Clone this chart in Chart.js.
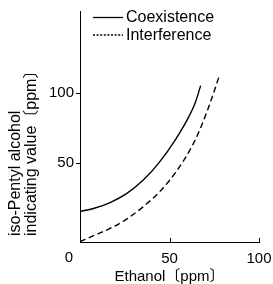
<!DOCTYPE html>
<html>
<head>
<meta charset="utf-8">
<script src="https://cdn.jsdelivr.net/npm/chart.js@4"></script>
<style>
  html, body { margin: 0; padding: 0; background: #fff; }
  #wrap { width: 273px; height: 284px; }
</style>
</head>
<body>
<div id="wrap"><canvas id="grafico"></canvas></div>
<script>
// datos
let etanolCoex = [0, 7.5, 16.8, 26, 35.2, 44.4, 53.6, 60.9, 64.6, 67.4];
let valorCoex = [15.3, 17.4, 21.7, 28.1, 37.6, 50.7, 67.4, 83.5, 94, 105.5];
let etanolInterf = [0, 7.5, 16.8, 26, 35.2, 44.4, 53.6, 62.8, 68.3, 73.8, 77.5];
let valorInterf = [-6.4, -2.1, 3.1, 9.8, 18.6, 29.3, 43.6, 62.6, 78.1, 97.1, 111.4];
let ticksX = [50, 100];
let ticksY = [50, 100];
let nombres = ["Coexistence", "Interference"];
let tituloX = "Ethanol〔ppm〕";
let tituloY = ["iso-Pentyl alcohol", "indicating value〔ppm〕"];

let fuente = "'Liberation Sans', Arial, 'Noto Sans CJK JP', sans-serif";
Chart.defaults.font.family = fuente;
Chart.defaults.color = "#000";

function puntos(xs, ys) {
  return xs.map((x, i) => ({ x: x, y: ys[i] }));
}

// ticks hacia adentro en X, el "0" de la esquina, titulo Y y la leyenda
let extras = {
  id: "extras",
  afterDraw(chart) {
    let ctx = chart.ctx;
    let x = chart.scales.x;
    let area = chart.chartArea;
    ctx.save();
    ctx.strokeStyle = "#000";
    ctx.fillStyle = "#000";
    ctx.lineWidth = 1;
    ticksX.forEach(v => {
      let px = Math.round(x.getPixelForValue(v)) + 0.5;
      ctx.beginPath();
      ctx.moveTo(px, area.bottom);
      ctx.lineTo(px, area.bottom - 4);
      ctx.stroke();
    });
    ctx.font = "15px " + fuente;
    ctx.textAlign = "center";
    ctx.textBaseline = "middle";
    ctx.fillText("0", area.left - 11, 258);

    // titulo del eje Y, dos lineas giradas
    ctx.save();
    ctx.translate(0, 236);
    ctx.rotate(-Math.PI / 2);
    ctx.font = "16px " + fuente;
    ctx.textAlign = "left";
    ctx.textBaseline = "middle";
    ctx.fillText(tituloY[0], 0, 16);
    ctx.fillText(tituloY[1], 0, 31.5);
    ctx.restore();

    // leyenda
    let filas = [17.5, 35];
    ctx.font = "16px " + fuente;
    chart.data.datasets.forEach((d, i) => {
      ctx.beginPath();
      ctx.lineWidth = 1.3;
      ctx.setLineDash(i === 0 ? [] : [2, 1.6]);
      ctx.moveTo(93, filas[i]);
      ctx.lineTo(123, filas[i]);
      ctx.stroke();
      ctx.setLineDash([]);
      ctx.textAlign = "left";
      ctx.fillText(d.label, 126, filas[i] + 0.5);
    });
    ctx.restore();
  }
};

new Chart(document.getElementById("grafico"), {
  type: "line",
  data: {
    datasets: [
      {
        label: nombres[0],
        data: puntos(etanolCoex, valorCoex),
        borderColor: "#000",
        borderWidth: 1.4,
        pointRadius: 0,
        cubicInterpolationMode: "monotone",
        fill: false
      },
      {
        label: nombres[1],
        data: puntos(etanolInterf, valorInterf),
        borderColor: "#000",
        borderWidth: 1.4,
        borderDash: [6, 3.5],
        pointRadius: 0,
        cubicInterpolationMode: "monotone",
        fill: false
      }
    ]
  },
  options: {
    responsive: true,
    maintainAspectRatio: false,
    animation: false,
    layout: { padding: { top: 10, right: 14, left: 47, bottom: 0 } },
    plugins: { legend: { display: false }, tooltip: { enabled: false } },
    scales: {
      x: {
        type: "linear",
        min: 0,
        max: 100,
        afterBuildTicks: s => { s.ticks = ticksX.map(v => ({ value: v })); },
        afterFit: s => { s.height = 42; s.paddingRight = 0; s.paddingLeft = 0; },
        grid: { drawOnChartArea: false, drawTicks: false },
        border: { color: "#000", width: 1 },
        ticks: { font: { size: 15, lineHeight: 1 }, padding: 9, maxRotation: 0 },
        title: {
          display: true,
          text: tituloX,
          font: { size: 15, lineHeight: 1 },
          padding: { top: 0, bottom: 0 }
        }
      },
      y: {
        type: "linear",
        min: -6.6,
        max: 159,
        afterBuildTicks: s => { s.ticks = ticksY.map(v => ({ value: v })); },
        grid: { drawOnChartArea: false, drawTicks: true, tickLength: 4, color: "#000" },
        border: { color: "#000", width: 1 },
        ticks: { font: { size: 15 }, padding: 2 }
      }
    }
  },
  plugins: [extras]
});
</script>
</body>
</html>
